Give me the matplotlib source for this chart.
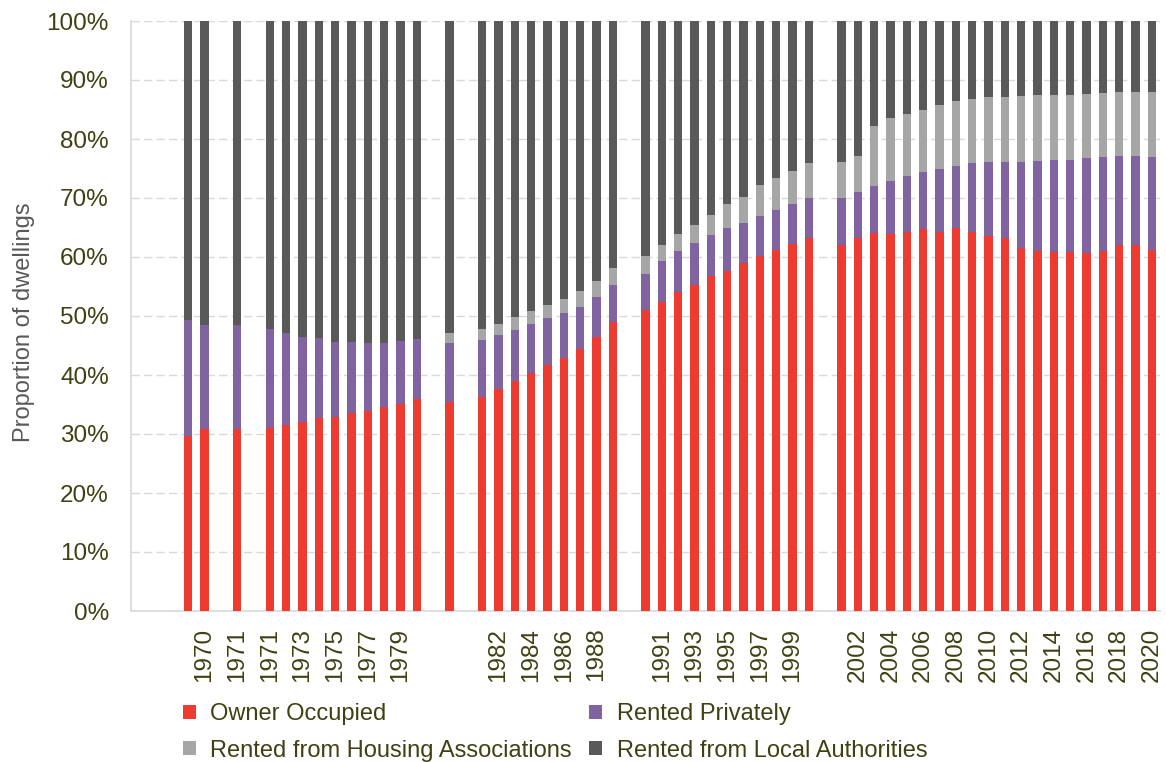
import numpy as np
import matplotlib.pyplot as plt

plt.rcParams['font.family'] = ['Liberation Sans', 'DejaVu Sans']

nan = np.nan

# categorias (slots vazios = '')
anos = ['1969', '1970', '', '1971', '', '1971', '1972', '1973', '1974', '1975',
        '1976', '1977', '1978', '1979', '1980', '', '1981', '', '1981', '1982',
        '1983', '1984', '1985', '1986', '1987', '1988', '1989', '', '1990', '1991',
        '1992', '1993', '1994', '1995', '1996', '1997', '1998', '1999', '2000', '',
        '2001', '2002', '2003', '2004', '2005', '2006', '2007', '2008', '2009', '2010',
        '2011', '2012', '2013', '2014', '2015', '2016', '2017', '2018', '2019', '2020']

# percentuais por tipo de ocupacao
owner = [29.6, 30.8, nan, 30.8, nan, 31.1, 31.6, 32.1, 32.7, 32.9,
         33.5, 33.9, 34.5, 35.1, 35.9, nan, 35.4, nan, 36.3, 37.6,
         38.9, 40.4, 41.7, 42.9, 44.4, 46.5, 49.0, nan, 51.0, 52.3,
         54.0, 55.3, 56.8, 57.7, 58.9, 60.2, 61.2, 62.2, 63.3, nan,
         62.1, 63.3, 64.1, 63.9, 64.3, 64.7, 64.2, 64.9, 64.3, 63.6,
         63.3, 61.6, 61.0, 60.9, 60.8, 60.7, 61.0, 62.0, 62.0, 61.2]
private = [19.8, 17.7, nan, 17.6, nan, 16.7, 15.5, 14.4, 13.5, 12.7,
           12.1, 11.5, 11.0, 10.7, 10.2, nan, 10.1, nan, 9.6, 9.1,
           8.7, 8.3, 7.9, 7.6, 7.2, 6.7, 6.3, nan, 6.1, 7.1,
           7.0, 7.0, 7.0, 7.2, 6.9, 6.8, 6.7, 6.8, 6.7, nan,
           7.9, 7.7, 7.9, 8.9, 9.5, 9.7, 10.8, 10.6, 11.6, 12.5,
           12.8, 14.5, 15.3, 15.5, 15.7, 16.1, 15.9, 15.1, 15.1, 15.7]
housing_assoc = [0, 0, nan, 0, nan, 0, 0, 0, 0, 0,
                 0, 0, 0, 0, 0, nan, 1.7, nan, 1.9, 1.9,
                 2.2, 2.2, 2.3, 2.4, 2.7, 2.7, 2.9, nan, 3.0, 2.6,
                 2.9, 3.2, 3.4, 4.0, 4.4, 5.2, 5.5, 5.6, 5.9, nan,
                 6.1, 6.2, 10.2, 10.8, 10.4, 10.5, 10.7, 11.0, 10.8, 11.0,
                 11.1, 11.2, 11.1, 11.0, 11.0, 10.9, 10.9, 10.8, 10.8, 11.0]
local_auth = [50.6, 51.5, nan, 51.6, nan, 52.2, 52.9, 53.5, 53.8, 54.4,
              54.4, 54.6, 54.5, 54.2, 53.9, nan, 52.8, nan, 52.2, 51.4,
              50.2, 49.1, 48.1, 47.1, 45.7, 44.1, 41.8, nan, 39.9, 38.0,
              36.1, 34.5, 32.8, 31.1, 29.8, 27.8, 26.6, 25.4, 24.1, nan,
              23.9, 22.8, 17.8, 16.4, 15.8, 15.1, 14.3, 13.5, 13.3, 12.9,
              12.8, 12.7, 12.6, 12.6, 12.5, 12.3, 12.2, 12.1, 12.1, 12.1]

series = [('Owner Occupied', owner, '#EE3B2F'),
          ('Rented Privately', private, '#8064A2'),
          ('Rented from Housing Associations', housing_assoc, '#A6A6A6'),
          ('Rented from Local Authorities', local_auth, '#595959')]

txt_cor = '#404012'
fig = plt.figure(figsize=(11.66, 7.62), dpi=100, facecolor='white')
ax = fig.add_axes([131/1166, 1 - 611/762, (1160 - 131)/1166, 590/762])

x = np.arange(len(anos))
base = np.zeros(len(anos))
barras = {}
for nome, vals, cor in series:
    v = np.array(vals, dtype=float)
    barras[nome] = ax.bar(x, np.nan_to_num(v) / 100, 0.5, bottom=base, color=cor,
                          label=nome, zorder=3)
    base = base + np.nan_to_num(v) / 100

ax.set_xlim(-3.5, 59.5)
ax.set_ylim(0, 1)
ax.set_yticks(np.arange(0, 1.01, 0.1))
ax.set_yticklabels(['%d%%' % round(v * 100) for v in np.arange(0, 1.01, 0.1)])
ax.set_xticks(x[1::2])
ax.set_xticklabels(anos[1::2], rotation=90)
ax.tick_params(axis='y', length=0, pad=16, labelsize=17.5, labelcolor=txt_cor)
ax.tick_params(axis='x', length=0, pad=12, labelsize=17.5, labelcolor=txt_cor)
ax.yaxis.grid(True, color='#D9D9D9', linestyle=(0, (6, 3)), linewidth=1, zorder=0)
ax.set_axisbelow(True)
for s in ['top', 'right']:
    ax.spines[s].set_visible(False)
for s in ['left', 'bottom']:
    ax.spines[s].set_color('#D9D9D9')
    ax.spines[s].set_linewidth(1.2)

ax.set_ylabel('Proportion of dwellings', fontsize=17, color='#595959')
ax.yaxis.set_label_coords(-0.093, 0.49)

ordem = ['Owner Occupied', 'Rented from Housing Associations',
         'Rented Privately', 'Rented from Local Authorities']
leg = fig.legend([barras[n] for n in ordem], ordem, ncol=2, loc='upper left',
                 bbox_to_anchor=(183/1166, 1 - 703/762), frameon=False,
                 fontsize=17, handlelength=0.55, handleheight=0.55,
                 handletextpad=0.6, columnspacing=0.75, labelspacing=0.62,
                 borderpad=0, borderaxespad=0)
for t in leg.get_texts():
    t.set_color(txt_cor)

fig.savefig('out.png', dpi=100, facecolor='white')
